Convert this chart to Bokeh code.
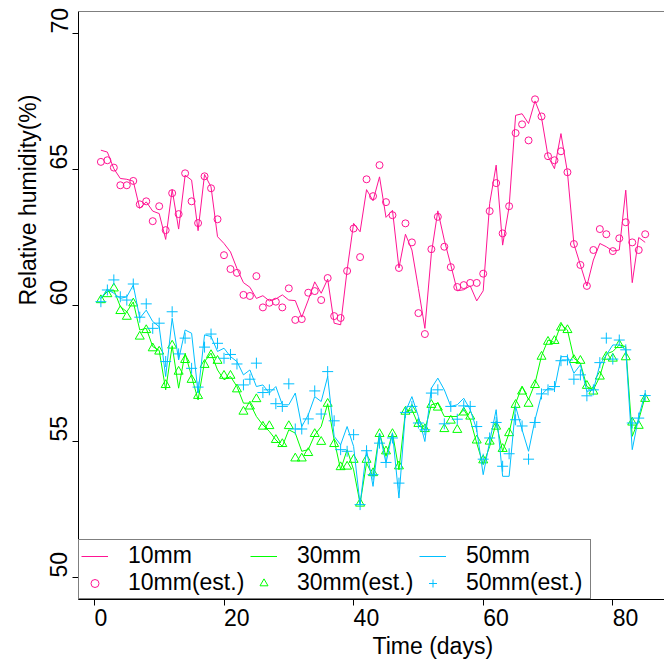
from bokeh.plotting import figure
from bokeh.models import (Legend, LegendItem, Span, FixedTicker, Range1d,
                          LinearAxis, Title)
from bokeh.embed import file_html
from bokeh.resources import INLINE

days = list(range(1, 86))

rh_10mm = [65.71, 65.64, 65.03, 64.67, 64.64, 64.57, 63.57, 63.81, 63.47, 63.38,
           62.43, 64.26, 62.81, 64.79, 64.61, 62.75, 64.82, 64.36, 62.53, 62.28,
           61.97, 61.36, 60.84, 60.67, 60.26, 60.36, 60.17, 60.24, 60.39, 60.20,
           60.18, 59.57, 60.20, 60.87, 60.45, 60.97, 59.35, 59.29, 61.30, 63.02,
           62.71, 64.26, 63.85, 64.73, 63.24, 63.50, 61.38, 62.62, 62.04, 60.63,
           59.16, 61.91, 63.48, 62.40, 61.49, 60.54, 60.58, 60.72, 60.17, 60.54,
           63.75, 65.16, 62.22, 63.63, 66.99, 67.05, 66.69, 67.52, 66.91, 65.49,
           65.03, 66.32, 64.90, 62.26, 61.49, 60.72, 61.67, 62.28, 62.16, 62.00,
           62.04, 64.24, 60.84, 62.50, 62.32]
rh_10mm_est = [65.28, 65.34, 65.07, 64.42, 64.42, 64.58, 63.72, 63.83, 63.10, 63.65,
               62.77, 64.13, 63.36, 64.86, 63.83, 63.03, 64.75, 64.31, 63.17, 61.85,
               61.34, 61.20, 60.39, 60.35, 61.08, 59.93, 60.10, 60.14, 59.93, 60.63,
               59.47, 59.50, 60.47, 60.53, 60.20, 61.01, 59.61, 59.54, 61.27, 62.83,
               61.78, 64.64, 64.02, 65.16, 63.80, 63.32, 61.38, 63.02, 62.32, 59.72,
               58.95, 62.07, 63.26, 62.16, 61.41, 60.68, 60.75, 60.83, 60.83, 61.17,
               63.47, 64.50, 62.65, 63.65, 66.34, 66.66, 66.07, 67.58, 66.95, 65.49,
               65.34, 65.67, 64.90, 62.26, 61.49, 60.72, 62.04, 62.81, 62.62, 62.00,
               62.47, 63.06, 62.32, 62.04, 62.62]
rh_30mm = [60.26, 60.51, 60.57, 59.96, 59.77, 60.13, 59.10, 59.16, 58.49, 58.35,
           56.90, 58.52, 56.96, 58.25, 57.39, 56.53, 57.94, 58.25, 57.63, 57.27,
           57.39, 57.02, 56.41, 56.41, 55.92, 55.61, 55.37, 55.06, 54.82, 55.43,
           55.31, 54.64, 54.70, 55.24, 55.55, 56.39, 55.06, 53.96, 54.70, 53.96,
           52.72, 54.21, 53.72, 55.31, 54.45, 55.31, 53.96, 56.10, 56.17, 55.61,
           55.43, 56.35, 56.41, 55.92, 55.92, 55.92, 56.17, 55.80, 54.94, 54.15,
           54.82, 55.68, 54.64, 55.31, 56.41, 57.02, 56.54, 57.14, 58.15, 58.73,
           58.64, 59.31, 59.10, 58.06, 57.88, 57.02, 56.90, 57.39, 58.22, 58.31,
           58.55, 58.49, 55.19, 55.80, 56.65]
rh_30mm_est = [60.20, 60.42, 60.63, 59.80, 59.59, 60.08, 58.86, 59.10, 58.43, 58.31,
               57.08, 58.53, 57.57, 58.00, 57.27, 56.68, 57.82, 58.18, 57.97, 57.42,
               57.42, 56.92, 56.10, 56.29, 56.56, 55.55, 55.57, 55.06, 54.91, 55.57,
               54.38, 54.38, 54.58, 55.28, 54.99, 56.39, 54.91, 54.06, 54.08, 54.33,
               52.72, 54.33, 53.84, 55.28, 54.64, 55.28, 54.09, 56.10, 56.17, 55.65,
               55.46, 56.35, 56.25, 55.46, 55.77, 55.43, 56.07, 55.92, 55.04, 54.31,
               55.00, 55.55, 54.73, 55.31, 56.35, 56.84, 56.39, 57.08, 58.12, 58.67,
               58.70, 59.19, 59.10, 58.00, 57.97, 57.05, 56.84, 57.39, 58.12, 58.05,
               58.55, 58.10, 55.70, 55.58, 56.57]
rh_50mm = [60.26, 60.59, 60.45, 60.26, 60.32, 60.75, 59.53, 59.83, 59.41, 59.22,
           57.39, 59.53, 58.00, 59.10, 58.98, 56.78, 58.92, 58.86, 58.31, 58.43,
           58.12, 57.94, 57.45, 57.63, 57.02, 57.08, 56.78, 57.02, 56.35, 56.35,
           56.78, 55.55, 55.98, 56.65, 56.47, 57.39, 55.19, 54.88, 55.55, 54.82,
           52.68, 54.70, 53.35, 55.31, 54.21, 55.31, 52.92, 56.10, 56.65, 55.92,
           55.00, 56.96, 57.33, 56.90, 56.29, 56.35, 56.59, 56.17, 55.43, 53.78,
           55.00, 56.17, 53.72, 53.72, 56.29, 55.43, 54.64, 55.80, 56.72, 56.96,
           56.92, 58.12, 58.12, 57.51, 57.82, 56.84, 56.90, 57.82, 58.18, 58.55,
           58.55, 58.37, 54.70, 55.92, 56.78]
rh_50mm_est = [60.14, 60.57, 60.94, 60.32, 60.20, 60.79, 59.57, 60.06, 59.16, 59.35,
               57.94, 59.77, 58.22, 58.80, 57.69, 57.00, 58.47, 58.95, 58.61, 58.06,
               58.20, 57.85, 57.08, 57.29, 57.88, 56.80, 56.90, 56.39, 56.29, 57.12,
               55.46, 55.46, 55.83, 56.86, 56.01, 57.57, 55.76, 54.70, 54.64, 55.25,
               52.68, 54.66, 53.78, 54.94, 54.23, 55.13, 53.47, 56.07, 56.29, 55.68,
               55.43, 56.78, 56.90, 55.65, 56.29, 55.82, 56.31, 56.29, 55.55, 54.35,
               55.13, 55.70, 54.09, 54.55, 55.80, 55.57, 54.35, 55.70, 56.75, 56.90,
               57.02, 57.97, 58.00, 57.29, 57.45, 56.68, 56.90, 57.90, 58.80, 58.03,
               58.73, 58.37, 55.68, 55.86, 56.69]

x_ticks = [0, 20, 40, 60, 80]
x_tick_labels = ["0", "20", "40", "60", "80"]
y_ticks = [50, 55, 60, 65, 70]
y_tick_labels = ["50", "55", "60", "65", "70"]

C10 = "#FF1493"
C30 = "#00FF00"
C50 = "#00BFFF"
FONT = "Liberation Sans"
FS = "23px"
FS_PX = 23.0

# plot box: x 78..664, y 11..599 (pixels)
PX_PER_X = 6.48
PX_PER_Y = 27.2
X0 = -15.9 / PX_PER_X
X1 = X0 + 586.0 / PX_PER_X
Y1 = 70.0 + 22.0 / PX_PER_Y
Y0 = Y1 - 588.0 / PX_PER_Y
DIGIT_W = 0.556 * FS_PX

p = figure(width=664, height=666, output_backend="svg", toolbar_location=None,
           x_range=Range1d(X0, X1), y_range=Range1d(Y0, Y1),
           min_border_left=78, min_border_right=0, min_border_top=11,
           min_border_bottom=67)
p.outline_line_color = None
p.xgrid.visible = False
p.ygrid.visible = False
p.background_fill_color = "white"
p.border_fill_color = "white"

# axes carrying the tick marks (their own labels are not drawn)
for ax in (p.xaxis[0], p.yaxis[0]):
    ax.axis_line_color = "black"
    ax.axis_line_width = 1
    ax.major_tick_line_color = "black"
    ax.major_tick_out = 6
    ax.major_tick_in = 0
    ax.minor_tick_line_color = None
    ax.major_label_text_font_size = "1px"
    ax.major_label_text_color = None
    ax.major_label_standoff = 0
p.xaxis[0].ticker = FixedTicker(ticks=x_ticks)
p.yaxis[0].ticker = FixedTicker(ticks=y_ticks)

# axes carrying the labels, which start at the tick (as in the reference)
x_lab_pos = [t + 0.5 * DIGIT_W * len(s) / PX_PER_X for t, s in zip(x_ticks, x_tick_labels)]
y_lab_pos = [t + 0.5 * DIGIT_W * len(s) / PX_PER_Y for t, s in zip(y_ticks, y_tick_labels)]

xlab_axis = LinearAxis(ticker=FixedTicker(ticks=x_lab_pos),
                       major_label_overrides={v: s for v, s in zip(x_lab_pos, x_tick_labels)})
ylab_axis = LinearAxis(ticker=FixedTicker(ticks=y_lab_pos),
                       major_label_overrides={v: s for v, s in zip(y_lab_pos, y_tick_labels)})
for ax in (xlab_axis, ylab_axis):
    ax.axis_line_color = None
    ax.major_tick_line_color = None
    ax.minor_tick_line_color = None
    ax.major_tick_out = 0
    ax.major_tick_in = 0
    ax.major_label_text_font = FONT
    ax.major_label_text_font_size = FS
    ax.major_label_text_line_height = 1.0
    ax.major_label_text_color = "black"
xlab_axis.major_label_standoff = 3
ylab_axis.major_label_standoff = 5
ylab_axis.major_label_orientation = "vertical"
p.add_layout(xlab_axis, "below")
p.add_layout(ylab_axis, "left")

p.add_layout(Span(location=Y1, dimension="width", line_color="black", line_width=1))

l10 = p.line(days, rh_10mm, line_color=C10, line_width=1)
s10 = p.scatter(days, rh_10mm_est, marker="circle", size=7, fill_color=None,
                line_color=C10, line_width=1)
l30 = p.line(days, rh_30mm, line_color=C30, line_width=1)
s30 = p.scatter(days, rh_30mm_est, marker="triangle", size=9, fill_color=None,
                line_color=C30, line_width=1)
l50 = p.line(days, rh_50mm, line_color=C50, line_width=1)
s50 = p.scatter(days, rh_50mm_est, marker="cross", size=11,
                line_color=C50, line_width=1)

legend = Legend(items=[
    LegendItem(label="10mm", renderers=[l10]),
    LegendItem(label="10mm(est.)", renderers=[s10]),
    LegendItem(label="30mm", renderers=[l30]),
    LegendItem(label="30mm(est.)", renderers=[s30]),
    LegendItem(label="50mm", renderers=[l50]),
    LegendItem(label="50mm(est.)", renderers=[s50]),
], location="bottom_left", orientation="vertical", ncols=3)
legend.margin = 0
legend.padding = 2
legend.spacing = 0
legend.glyph_width = 27
legend.glyph_height = 20
legend.label_standoff = 20
legend.label_height = 27
legend.label_width = 122
legend.label_text_font = FONT
legend.label_text_font_size = FS
legend.label_text_line_height = 1.0
legend.label_text_color = "black"
legend.border_line_color = "black"
legend.border_line_width = 1
legend.background_fill_alpha = 1.0
p.add_layout(legend)

# axis titles start at the middle of the plot box, as in the reference
tx = Title(text="Time (days)", align="left", offset=294, text_font=FONT,
           text_font_size=FS, text_font_style="normal", text_color="black",
           text_line_height=1.0, standoff=5)
ty = Title(text="Relative humidity(%)", align="left", offset=294, text_font=FONT,
           text_font_size=FS, text_font_style="normal", text_color="black",
           text_line_height=1.0, standoff=14)
p.add_layout(tx, "below")
p.add_layout(ty, "left")

open("out.html", "w").write(file_html(p, INLINE))
